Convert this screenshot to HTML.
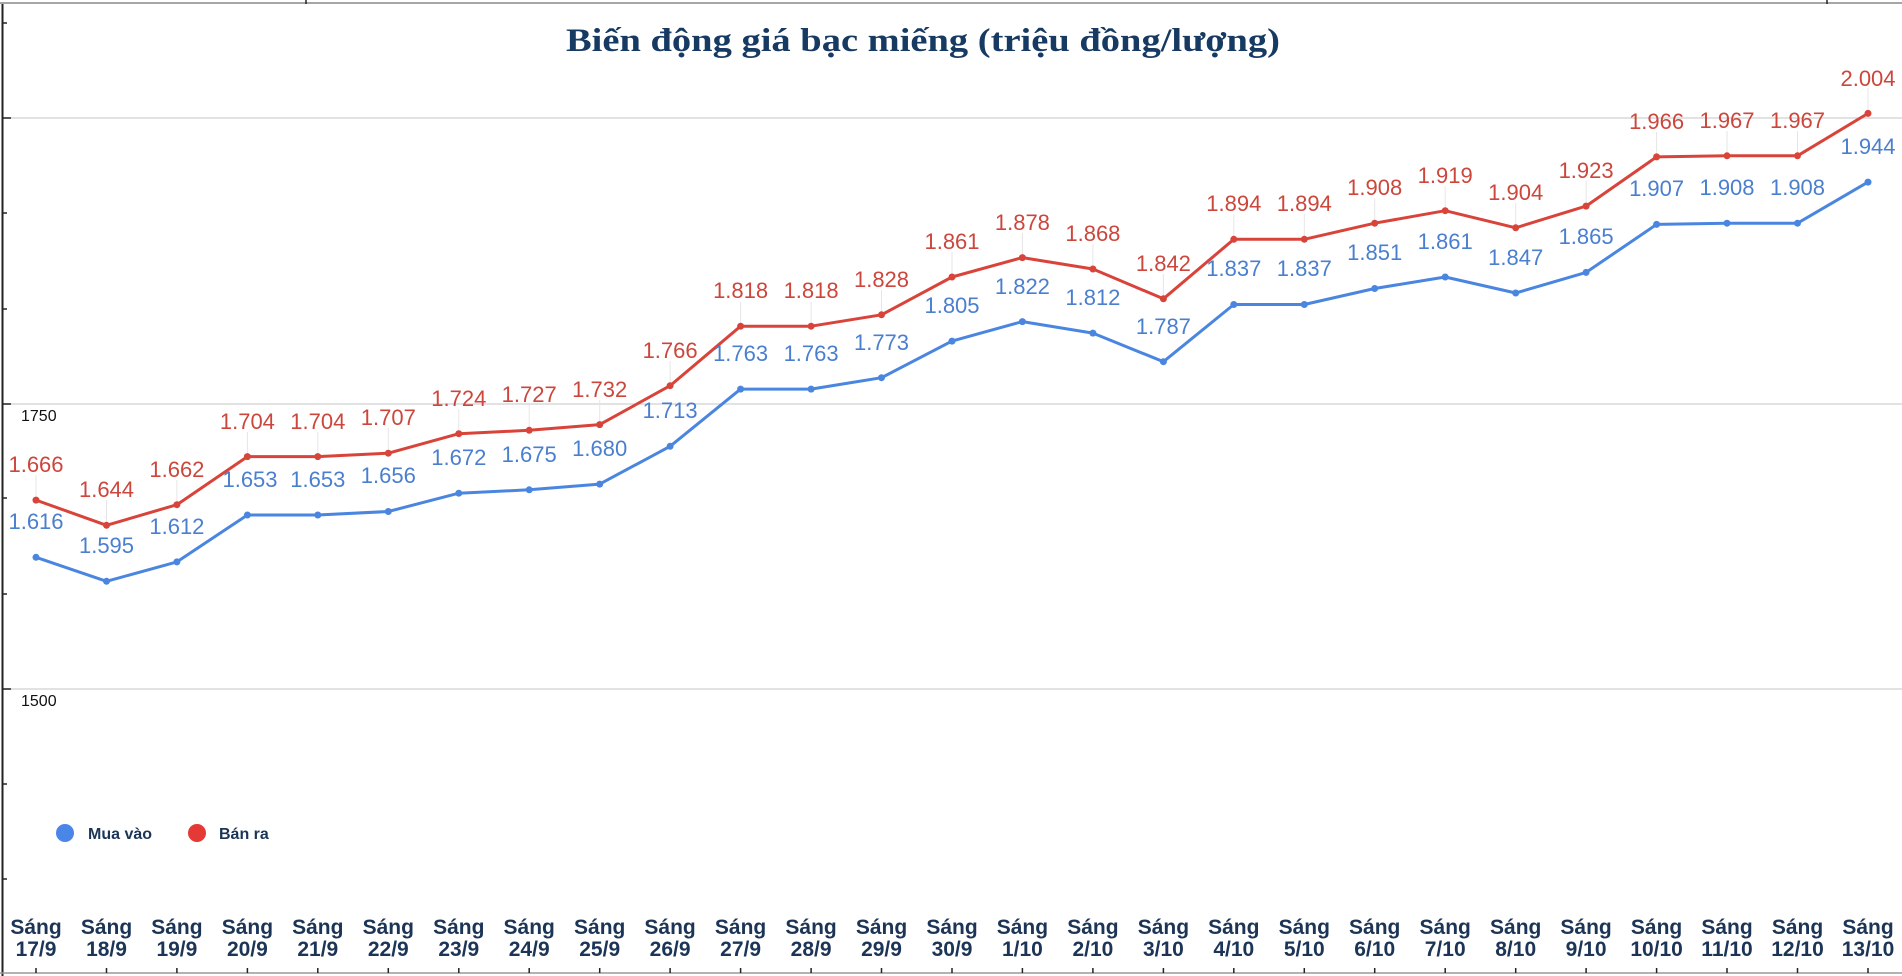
<!DOCTYPE html>
<html><head><meta charset="utf-8"><style>
html,body{margin:0;padding:0;background:#fff;}
svg{display:block;}
</style></head><body>
<svg width="1902" height="976" xmlns="http://www.w3.org/2000/svg">
<rect width="1902" height="976" fill="#fff"/>
<line x1="0" y1="3" x2="1902" y2="3" stroke="#888" stroke-width="1.5"/>
<line x1="306" y1="0" x2="306" y2="4" stroke="#222" stroke-width="1.5"/>
<line x1="1827" y1="0" x2="1827" y2="4" stroke="#222" stroke-width="1.5"/>
<g stroke="#d0d0d0" stroke-width="1.3">
<line x1="3" y1="118" x2="1902" y2="118"/>
<line x1="3" y1="404" x2="1902" y2="404"/>
<line x1="3" y1="689" x2="1902" y2="689"/>
</g>
<line x1="2.5" y1="4" x2="2.5" y2="976" stroke="#222" stroke-width="2"/>
<g stroke="#222" stroke-width="1.5">
<line x1="2" y1="23" x2="7" y2="23"/><line x1="2" y1="118" x2="11" y2="118"/><line x1="2" y1="213" x2="7" y2="213"/><line x1="2" y1="309" x2="7" y2="309"/><line x1="2" y1="404" x2="11" y2="404"/><line x1="2" y1="498" x2="7" y2="498"/><line x1="2" y1="594" x2="7" y2="594"/><line x1="2" y1="689" x2="11" y2="689"/><line x1="2" y1="784" x2="7" y2="784"/><line x1="2" y1="879" x2="7" y2="879"/>
</g>
<line x1="0" y1="973" x2="1902" y2="973" stroke="#999" stroke-width="1.5"/>
<text x="923" y="51" text-anchor="middle" font-family="Liberation Serif, serif" font-weight="bold" font-size="33" fill="#173a63" textLength="714" lengthAdjust="spacingAndGlyphs">Biến động giá bạc miếng (triệu đồng/lượng)</text>
<g font-family="Liberation Sans, sans-serif" font-size="16" fill="#111">
<text x="21" y="421">1750</text><text x="21" y="706">1500</text>
</g>
<!-- leader lines -->
<g stroke="#e6e6e6" stroke-width="1">
<path d="M36 475V500M106.5 500V525M176.9 480V505M247.4 432V457M317.8 432V457M388.3 428V453M458.8 409V434M529.2 405V430M599.7 400V425M670.1 361V386M740.6 302V326M811.1 302V326M881.5 290V315M952 252V277M1022.4 233V258M1092.9 244V269M1163.4 274V299M1233.8 214V239M1304.3 214V239M1374.7 198V223M1445.2 186V211M1515.7 203V228M1586.1 181V206M1656.6 132V157M1727 131V156M1797.5 131V156M1868 88V113"/>
</g>
<polyline fill="none" stroke="#4a86e0" stroke-width="3" stroke-linejoin="round" points="36,557.3 106.5,581.3 176.9,561.9 247.4,515 317.8,515 388.3,511.5 458.8,493.2 529.2,489.8 599.7,484.1 670.1,446.3 740.6,389.1 811.1,389.1 881.5,377.7 952,341.1 1022.4,321.6 1092.9,333.1 1163.4,361.7 1233.8,304.5 1304.3,304.5 1374.7,288.5 1445.2,277 1515.7,293 1586.1,272.4 1656.6,224.4 1727,223.2 1797.5,223.2 1868,182.1"/>
<polyline fill="none" stroke="#d9443a" stroke-width="3" stroke-linejoin="round" points="36,500.1 106.5,525.3 176.9,504.7 247.4,456.6 317.8,456.6 388.3,453.2 458.8,433.7 529.2,430.3 599.7,424.6 670.1,385.7 740.6,326.2 811.1,326.2 881.5,314.8 952,277 1022.4,257.6 1092.9,269 1163.4,298.8 1233.8,239.3 1304.3,239.3 1374.7,223.2 1445.2,210.7 1515.7,227.8 1586.1,206.1 1656.6,156.9 1727,155.8 1797.5,155.8 1868,113.4"/>
<g fill="#4a86e0">
<circle cx="36" cy="557.3" r="3.5"/><circle cx="106.5" cy="581.3" r="3.5"/><circle cx="176.9" cy="561.9" r="3.5"/><circle cx="247.4" cy="515" r="3.5"/><circle cx="317.8" cy="515" r="3.5"/><circle cx="388.3" cy="511.5" r="3.5"/><circle cx="458.8" cy="493.2" r="3.5"/><circle cx="529.2" cy="489.8" r="3.5"/><circle cx="599.7" cy="484.1" r="3.5"/><circle cx="670.1" cy="446.3" r="3.5"/><circle cx="740.6" cy="389.1" r="3.5"/><circle cx="811.1" cy="389.1" r="3.5"/><circle cx="881.5" cy="377.7" r="3.5"/><circle cx="952" cy="341.1" r="3.5"/><circle cx="1022.4" cy="321.6" r="3.5"/><circle cx="1092.9" cy="333.1" r="3.5"/><circle cx="1163.4" cy="361.7" r="3.5"/><circle cx="1233.8" cy="304.5" r="3.5"/><circle cx="1304.3" cy="304.5" r="3.5"/><circle cx="1374.7" cy="288.5" r="3.5"/><circle cx="1445.2" cy="277" r="3.5"/><circle cx="1515.7" cy="293" r="3.5"/><circle cx="1586.1" cy="272.4" r="3.5"/><circle cx="1656.6" cy="224.4" r="3.5"/><circle cx="1727" cy="223.2" r="3.5"/><circle cx="1797.5" cy="223.2" r="3.5"/><circle cx="1868" cy="182.1" r="3.5"/>
</g>
<g fill="#d9443a">
<circle cx="36" cy="500.1" r="3.5"/><circle cx="106.5" cy="525.3" r="3.5"/><circle cx="176.9" cy="504.7" r="3.5"/><circle cx="247.4" cy="456.6" r="3.5"/><circle cx="317.8" cy="456.6" r="3.5"/><circle cx="388.3" cy="453.2" r="3.5"/><circle cx="458.8" cy="433.7" r="3.5"/><circle cx="529.2" cy="430.3" r="3.5"/><circle cx="599.7" cy="424.6" r="3.5"/><circle cx="670.1" cy="385.7" r="3.5"/><circle cx="740.6" cy="326.2" r="3.5"/><circle cx="811.1" cy="326.2" r="3.5"/><circle cx="881.5" cy="314.8" r="3.5"/><circle cx="952" cy="277" r="3.5"/><circle cx="1022.4" cy="257.6" r="3.5"/><circle cx="1092.9" cy="269" r="3.5"/><circle cx="1163.4" cy="298.8" r="3.5"/><circle cx="1233.8" cy="239.3" r="3.5"/><circle cx="1304.3" cy="239.3" r="3.5"/><circle cx="1374.7" cy="223.2" r="3.5"/><circle cx="1445.2" cy="210.7" r="3.5"/><circle cx="1515.7" cy="227.8" r="3.5"/><circle cx="1586.1" cy="206.1" r="3.5"/><circle cx="1656.6" cy="156.9" r="3.5"/><circle cx="1727" cy="155.8" r="3.5"/><circle cx="1797.5" cy="155.8" r="3.5"/><circle cx="1868" cy="113.4" r="3.5"/>
</g>
<g font-family="Liberation Sans, sans-serif" font-size="22" fill="#4a7fcf" text-anchor="middle">
<text x="36" y="529">1.616</text><text x="106.5" y="553">1.595</text><text x="176.9" y="534">1.612</text><text x="250" y="487">1.653</text><text x="317.8" y="487">1.653</text><text x="388.3" y="483">1.656</text><text x="458.8" y="465">1.672</text><text x="529.2" y="462">1.675</text><text x="599.7" y="456">1.680</text><text x="670.1" y="418">1.713</text><text x="740.6" y="361">1.763</text><text x="811.1" y="361">1.763</text><text x="881.5" y="350">1.773</text><text x="952" y="313">1.805</text><text x="1022.4" y="294">1.822</text><text x="1092.9" y="305">1.812</text><text x="1163.4" y="334">1.787</text><text x="1233.8" y="276">1.837</text><text x="1304.3" y="276">1.837</text><text x="1374.7" y="260">1.851</text><text x="1445.2" y="249">1.861</text><text x="1515.7" y="265">1.847</text><text x="1586.1" y="244">1.865</text><text x="1656.6" y="196">1.907</text><text x="1727" y="195">1.908</text><text x="1797.5" y="195">1.908</text><text x="1868" y="154">1.944</text>
</g>
<g font-family="Liberation Sans, sans-serif" font-size="22" fill="#cc463c" text-anchor="middle">
<text x="36" y="472">1.666</text><text x="106.5" y="497">1.644</text><text x="176.9" y="477">1.662</text><text x="247.4" y="429">1.704</text><text x="317.8" y="429">1.704</text><text x="388.3" y="425">1.707</text><text x="458.8" y="406">1.724</text><text x="529.2" y="402">1.727</text><text x="599.7" y="397">1.732</text><text x="670.1" y="358">1.766</text><text x="740.6" y="298">1.818</text><text x="811.1" y="298">1.818</text><text x="881.5" y="287">1.828</text><text x="952" y="249">1.861</text><text x="1022.4" y="230">1.878</text><text x="1092.9" y="241">1.868</text><text x="1163.4" y="271">1.842</text><text x="1233.8" y="211">1.894</text><text x="1304.3" y="211">1.894</text><text x="1374.7" y="195">1.908</text><text x="1445.2" y="183">1.919</text><text x="1515.7" y="200">1.904</text><text x="1586.1" y="178">1.923</text><text x="1656.6" y="129">1.966</text><text x="1727" y="128">1.967</text><text x="1797.5" y="128">1.967</text><text x="1868" y="86">2.004</text>
</g>
<circle cx="65" cy="833" r="9" fill="#4a86e8"/>
<circle cx="197" cy="833" r="9" fill="#e53935"/>
<g font-family="Liberation Sans, sans-serif" font-size="16" font-weight="bold" fill="#1c3557">
<text x="88" y="839">Mua vào</text><text x="219" y="839">Bán ra</text>
</g>
<g stroke="#222" stroke-width="1.5">
<path d="M36 968V973M106.5 968V973M176.9 968V973M247.4 968V973M317.8 968V973M388.3 968V973M458.8 968V973M529.2 968V973M599.7 968V973M670.1 968V973M740.6 968V973M811.1 968V973M881.5 968V973M952 968V973M1022.4 968V973M1092.9 968V973M1163.4 968V973M1233.8 968V973M1304.3 968V973M1374.7 968V973M1445.2 968V973M1515.7 968V973M1586.1 968V973M1656.6 968V973M1727 968V973M1797.5 968V973M1868 968V973"/>
</g>
<g font-family="Liberation Sans, sans-serif" font-size="21" font-weight="bold" fill="#1c3557" text-anchor="middle">
<text x="36" y="934">Sáng</text><text x="36" y="956">17/9</text>
<text x="106.5" y="934">Sáng</text><text x="106.5" y="956">18/9</text>
<text x="176.9" y="934">Sáng</text><text x="176.9" y="956">19/9</text>
<text x="247.4" y="934">Sáng</text><text x="247.4" y="956">20/9</text>
<text x="317.8" y="934">Sáng</text><text x="317.8" y="956">21/9</text>
<text x="388.3" y="934">Sáng</text><text x="388.3" y="956">22/9</text>
<text x="458.8" y="934">Sáng</text><text x="458.8" y="956">23/9</text>
<text x="529.2" y="934">Sáng</text><text x="529.2" y="956">24/9</text>
<text x="599.7" y="934">Sáng</text><text x="599.7" y="956">25/9</text>
<text x="670.1" y="934">Sáng</text><text x="670.1" y="956">26/9</text>
<text x="740.6" y="934">Sáng</text><text x="740.6" y="956">27/9</text>
<text x="811.1" y="934">Sáng</text><text x="811.1" y="956">28/9</text>
<text x="881.5" y="934">Sáng</text><text x="881.5" y="956">29/9</text>
<text x="952" y="934">Sáng</text><text x="952" y="956">30/9</text>
<text x="1022.4" y="934">Sáng</text><text x="1022.4" y="956">1/10</text>
<text x="1092.9" y="934">Sáng</text><text x="1092.9" y="956">2/10</text>
<text x="1163.4" y="934">Sáng</text><text x="1163.4" y="956">3/10</text>
<text x="1233.8" y="934">Sáng</text><text x="1233.8" y="956">4/10</text>
<text x="1304.3" y="934">Sáng</text><text x="1304.3" y="956">5/10</text>
<text x="1374.7" y="934">Sáng</text><text x="1374.7" y="956">6/10</text>
<text x="1445.2" y="934">Sáng</text><text x="1445.2" y="956">7/10</text>
<text x="1515.7" y="934">Sáng</text><text x="1515.7" y="956">8/10</text>
<text x="1586.1" y="934">Sáng</text><text x="1586.1" y="956">9/10</text>
<text x="1656.6" y="934">Sáng</text><text x="1656.6" y="956">10/10</text>
<text x="1727" y="934">Sáng</text><text x="1727" y="956">11/10</text>
<text x="1797.5" y="934">Sáng</text><text x="1797.5" y="956">12/10</text>
<text x="1868" y="934">Sáng</text><text x="1868" y="956">13/10</text>
</g>
</svg>
</body></html>
